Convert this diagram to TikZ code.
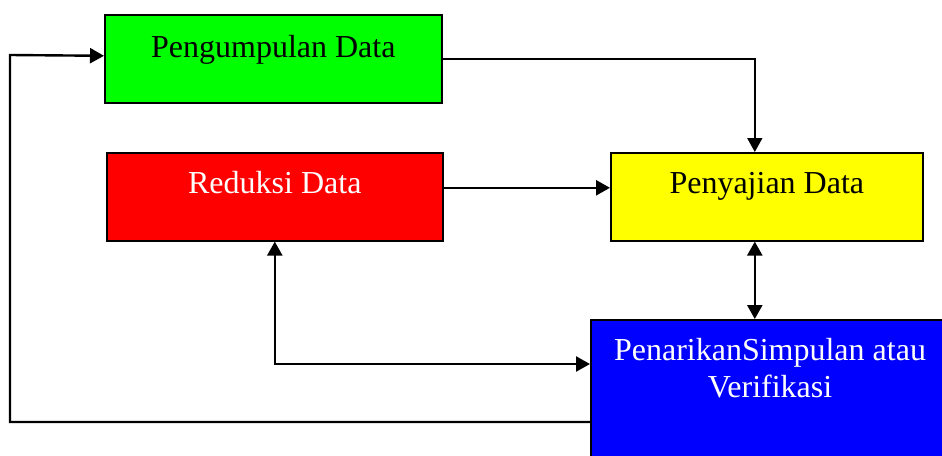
\documentclass[tikz,border=0pt]{standalone}
\usepackage{fontspec}
\setmainfont{Liberation Serif}
\usetikzlibrary{arrows.meta}
\begin{document}
\begin{tikzpicture}[x=1pt,y=-1pt,
  box/.style={draw=black, line width=1.6pt, inner sep=0pt, anchor=north west},
  txt/.style={font=\fontsize{32}{37}\selectfont, inner sep=0pt, align=center, anchor=base},
  link/.style={line width=2.4pt, -{Triangle[length=14pt,width=15pt]}},
  both/.style={line width=2.4pt, {Triangle[length=14pt,width=15pt]}-{Triangle[length=14pt,width=15pt]}},
  thinlink/.style={line width=1.6pt, -{Triangle[length=14pt,width=15pt]}}]
\clip (0,0) rectangle (942,455);
\fill[white] (0,0) rectangle (942,455);

% boxes
\node[box, fill={rgb,255:red,0;green,255;blue,0}, minimum width=337pt, minimum height=88pt] (pd) at (104,14) {};
\node[box, fill={rgb,255:red,255;green,0;blue,0}, minimum width=336pt, minimum height=88pt] (rd) at (106,152) {};
\node[box, fill={rgb,255:red,255;green,255;blue,0}, minimum width=312pt, minimum height=88pt] (py) at (610,152) {};
\node[box, fill={rgb,255:red,0;green,0;blue,255}, line width=2.4pt, minimum width=360pt, minimum height=160pt] (pk) at (590,319) {};

% labels
\node[txt] (tpd) at ([yshift=1pt]pd.center) {Pengumpulan Data};
\node[txt, text=white] (trd) at ([yshift=3pt]rd.center) {Reduksi Data};
\node[txt] (tpy) at ([yshift=3pt]py.center) {Penyajian Data};
\node[txt, text=white] (tpk) at (770,397) {PenarikanSimpulan atau\\Verifikasi};

% connectors
\draw[thinlink] (pd.east) -| ([xshift=-12pt]py.north);
\draw[link] ([yshift=9pt]rd.east) -- ([yshift=9pt]rd.east -| py.west);
\draw[both] ([xshift=-12pt]py.south) -- ([xshift=-12pt]py.south |- pk.north);
\draw[both] (rd.south) |- ([yshift=-45pt]pk.north west);
\coordinate (rt) at (10,55);
\draw[link] ([yshift=-103pt]pk.north west) -| (rt) -- ([yshift=3pt]pd.west);
\end{tikzpicture}
\end{document}
